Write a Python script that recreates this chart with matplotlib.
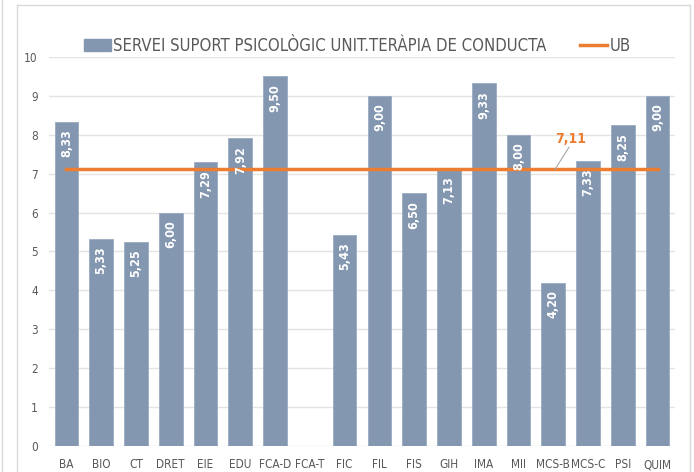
import matplotlib
matplotlib.use("Agg")
import matplotlib.pyplot as plt
from matplotlib.lines import Line2D
from matplotlib.patches import Rectangle

categories = ["BA", "BIO", "CT", "DRET", "EIE", "EDU", "FCA-D", "FCA-T", "FIC", "FIL",
              "FIS", "GIH", "IMA", "MII", "MCS-B", "MCS-C", "PSI", "QUIM"]
values = [8.33, 5.33, 5.25, 6.00, 7.29, 7.92, 9.50, None, 5.43, 9.00,
          6.50, 7.13, 9.33, 8.00, 4.20, 7.33, 8.25, 9.00]
ub_value = 7.11
series_name = "SERVEI SUPORT PSICOLÒGIC UNIT.TERÀPIA DE CONDUCTA"
ub_name = "UB"

plt.rcParams['font.family'] = ["DejaVu Sans"]
plt.rcParams['font.stretch'] = "condensed"

bar_color = "#8497B0"
ub_color = "#ED7D31"
text_color = "#595959"

fig = plt.figure(figsize=(6.94, 4.72), dpi=100)
W, H = 694, 472
ax = fig.add_axes([49 / W, 1 - 446 / H, (675 - 49) / W, (446 - 57) / H])

x = list(range(len(categories)))
for i, v in enumerate(values):
    if v is None:
        continue
    ax.bar(i, v, width=0.68, color=bar_color, edgecolor="#9AABC2", linewidth=0.6, zorder=2)
    ax.text(i, v - 0.2, f"{v:.2f}".replace(".", ","), rotation=90, ha="center", va="top",
            color="white", fontsize=9, fontweight="bold", zorder=4)

ax.plot([0, len(categories) - 1], [ub_value, ub_value], color=ub_color, linewidth=2.5, zorder=3)
ax.plot([14.05, 14.45], [ub_value, 7.68], color="#A6A6A6", linewidth=0.8, zorder=3)
ax.text(14.5, 7.72, f"{ub_value:.2f}".replace(".", ","), color=ub_color, fontsize=10,
        fontweight="bold", ha="center", va="bottom")

ax.set_xlim(-0.5, len(categories) - 0.5)
ax.set_ylim(0, 10)
ax.set_yticks(range(0, 11))
ax.set_xticks(x)
ax.set_xticklabels(categories)
ax.tick_params(axis="both", length=0, colors=text_color, labelsize=8.5)
ax.tick_params(axis="y", pad=8)
ax.tick_params(axis="x", pad=9)
ax.grid(axis="y", color="#E3E3E3", linewidth=1, zorder=0)
ax.set_axisbelow(True)
for s in ax.spines.values():
    s.set_visible(False)

handles = [Rectangle((0, 0), 1, 1, color=bar_color), Line2D([0], [0], color=ub_color, linewidth=2.5)]
leg = fig.legend(handles, [series_name, ub_name], loc="center", bbox_to_anchor=(0.515, 1 - 46 / H),
                 ncol=2, frameon=False, fontsize=12, columnspacing=2.0, handlelength=1.6,
                 handletextpad=0.15)
for t in leg.get_texts():
    t.set_color(text_color)

# frame lines
fig.add_artist(Line2D([2 / W, 2 / W], [0, 1], color="#D9D9D9", linewidth=1))
fig.add_artist(Line2D([17 / W, 17 / W], [0, 1 - 5 / H], color="#D9D9D9", linewidth=1))
fig.add_artist(Line2D([17 / W, 690 / W], [1 - 5 / H, 1 - 5 / H], color="#D9D9D9", linewidth=1))
fig.add_artist(Line2D([690 / W, 690 / W], [0, 1 - 5 / H], color="#D9D9D9", linewidth=1))

fig.savefig("out.png", dpi=100)
